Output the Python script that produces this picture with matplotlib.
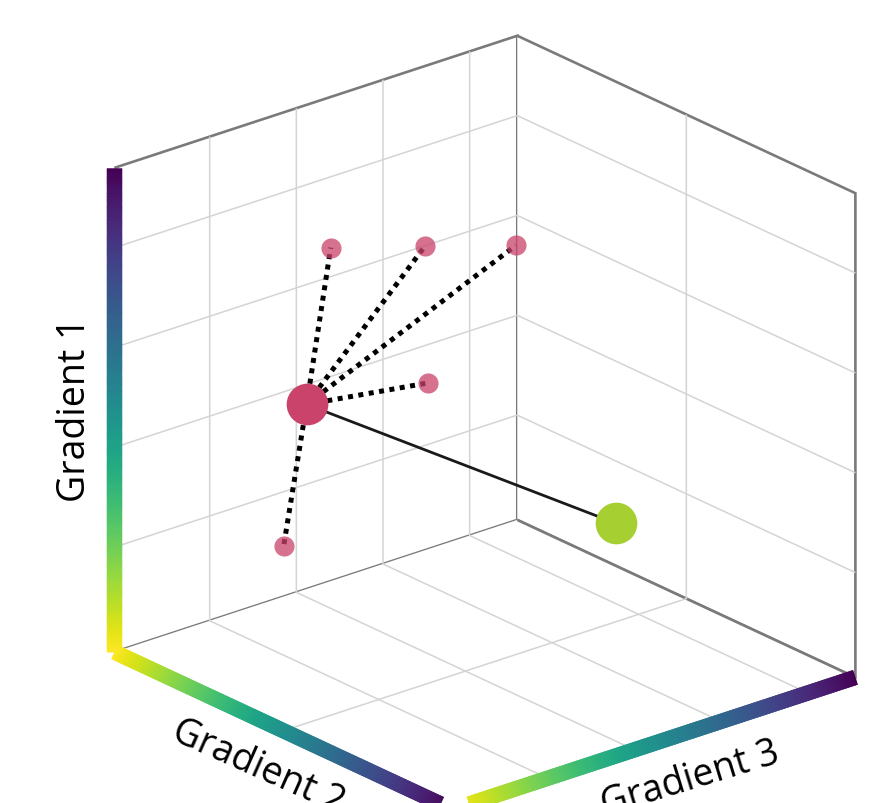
import numpy as np
import matplotlib.pyplot as plt
from mpl_toolkits.mplot3d.art3d import Line3DCollection

plt.rcParams["font.family"] = ["Open Sans", "DejaVu Sans"]
plt.rcParams["grid.color"] = "#d4d4d4"
plt.rcParams["grid.linewidth"] = 1.1

# gradient coordinates (x = Gradient 2, y = Gradient 3, z = Gradient 1)
center_xyz = [0.544, 1.058, 2.53]
member_x = [0.424, 0.652, 0.874, 0.814, 0.648]
member_y = [1.57, 2.21, 2.83, 1.93, 0.59]
member_z = [3.86, 3.87, 3.88, 2.71, 1.33]
target_xyz = [1.436, 2.89, 1.52]

xlim = (0, 2)
ylim = (-0.1, 4.55)
zlim = (-0.05, 4.8)

fig = plt.figure(figsize=(8.92, 8.04), dpi=100)
ax = fig.add_axes([0.0314, -0.0404, 1, 1], projection="3d", computed_zorder=False)
ax.set_proj_type("ortho")
ax.set_box_aspect((1, 1, 1), zoom=1.1)
ax.view_init(elev=23, azim=-40)
ax.set_xlim(*xlim)
ax.set_ylim(*ylim)
ax.set_zlim(*zlim)
ax.set_xticks([1])
ax.set_yticks([1, 2, 3, 4])
ax.set_zticks([1, 2, 3, 4])
for axis in (ax.xaxis, ax.yaxis, ax.zaxis):
    axis.set_ticklabels([])
    axis.set_pane_color((1, 1, 1, 1))
    axis.pane.set_edgecolor("#7a7a7a")
    axis.pane.set_linewidth(1.9)
    axis.line.set_color((0, 0, 0, 0))
    axis._axinfo["tick"]["inward_factor"] = 0
    axis._axinfo["tick"]["outward_factor"] = 0

# viridis axis bars (segments overlap a little so no seams show)
cmap = plt.get_cmap("viridis_r")
n = 150
t = np.linspace(0, 1, n + 1)
def bar(p0, p1):
    p0, p1 = np.array(p0), np.array(p1)
    t1 = np.minimum(t[1:] + 1.2 / n, 1)
    a = p0 + np.outer(t[:-1], p1 - p0)
    b = p0 + np.outer(t1, p1 - p0)
    segs = np.stack([a, b], axis=1)
    lc = Line3DCollection(segs, colors=cmap((t[:-1] + t[1:]) / 2), linewidths=11,
                          capstyle="butt", clip_on=False, zorder=1)
    ax.add_collection3d(lc)

bar((xlim[0], ylim[0], zlim[0]), (xlim[0], ylim[0], zlim[1]))
bar((xlim[0], ylim[0], zlim[0]), (xlim[1], ylim[0], zlim[0]))
bar((xlim[1], ylim[0], zlim[0]), (xlim[1], ylim[1], zlim[0]))

for mx, my, mz in zip(member_x, member_y, member_z):
    ax.plot([center_xyz[0], mx], [center_xyz[1], my], [center_xyz[2], mz],
            color="black", lw=3.6, ls=(0, (1, 1.1)), zorder=2)
ax.plot([center_xyz[0], target_xyz[0]], [center_xyz[1], target_xyz[1]],
        [center_xyz[2], target_xyz[2]], color="#1a1a1a", lw=2, zorder=2)
ax.scatter(member_x, member_y, member_z, s=210, color="#c9436b", alpha=0.75,
           linewidths=0, depthshade=False, zorder=3)
ax.scatter([center_xyz[0]], [center_xyz[1]], [center_xyz[2]], s=900,
           color="#c9436b", linewidths=0, depthshade=False, zorder=4)
ax.scatter([target_xyz[0]], [target_xyz[1]], [target_xyz[2]], s=900,
           color="#a6cf32", linewidths=0, depthshade=False, zorder=4)

fig.text(0.084, 0.49, "Gradient 1", rotation=90, fontsize=27,
         ha="center", va="center", rotation_mode="anchor")
fig.text(0.289, 0.045, "Gradient 2", rotation=-24, fontsize=27,
         ha="center", va="center", rotation_mode="anchor")
fig.text(0.774, 0.030, "Gradient 3", rotation=17, fontsize=27,
         ha="center", va="center", rotation_mode="anchor")

fig.savefig("out.png", dpi=100)
